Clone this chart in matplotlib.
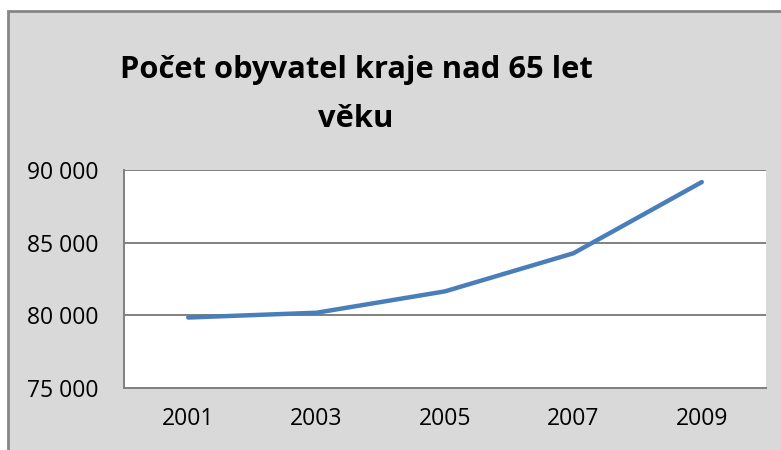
import matplotlib.pyplot as plt
from matplotlib.patches import Rectangle
from matplotlib.ticker import FuncFormatter

years = ["2001", "2003", "2005", "2007", "2009"]
obyvatel = [79850, 80180, 81650, 84270, 89170]
yticks = [75000, 80000, 85000, 90000]
title_lines = ["Počet obyvatel kraje nad 65 let", "věku"]

plt.rcParams['font.family'] = ['Open Sans', 'DejaVu Sans']

W, H = 781, 450
fig = plt.figure(figsize=(W / 100, H / 100), dpi=100, facecolor="white")

# grey chart area, border visible on top/left only
fig.patches.append(Rectangle((8 / W, -0.1), 1.1, 1.1 - 11 / H, transform=fig.transFigure,
                             facecolor="#D9D9D9", edgecolor="#868686", linewidth=2, zorder=-1))

ax = fig.add_axes([124 / W, 1 - 388 / H, (766 - 124) / W, (388 - 170) / H])
ax.set_zorder(2)
ax.set_facecolor("white")

x = range(len(years))
ax.plot(x, obyvatel, color="#4A7EBB", linewidth=3.2, solid_capstyle="round", zorder=3)

ax.set_xlim(-0.5, len(years) - 0.5)
ax.set_ylim(75000, 90000)
ax.set_xticks(list(x))
ax.set_xticklabels(years)
ax.set_yticks(yticks)
ax.yaxis.set_major_formatter(FuncFormatter(lambda v, p: f"{int(v):,}".replace(",", " ")))
ax.grid(axis="y", color="#808080", linewidth=1.4)
ax.set_axisbelow(True)

for s in ["top", "right"]:
    ax.spines[s].set_visible(False)
for s in ["left", "bottom"]:
    ax.spines[s].set_color("#808080")
    ax.spines[s].set_linewidth(1.4)

ax.tick_params(axis="both", length=0, labelsize=16.5, colors="black")
ax.tick_params(axis="y", pad=18)
ax.tick_params(axis="x", pad=14)

for line, yb in zip(title_lines, [78, 127]):
    fig.text(356 / W, 1 - yb / H, line, ha="center", va="baseline",
             fontsize=22.2, fontweight="bold")

fig.savefig("out.png", dpi=100, facecolor=fig.get_facecolor())
